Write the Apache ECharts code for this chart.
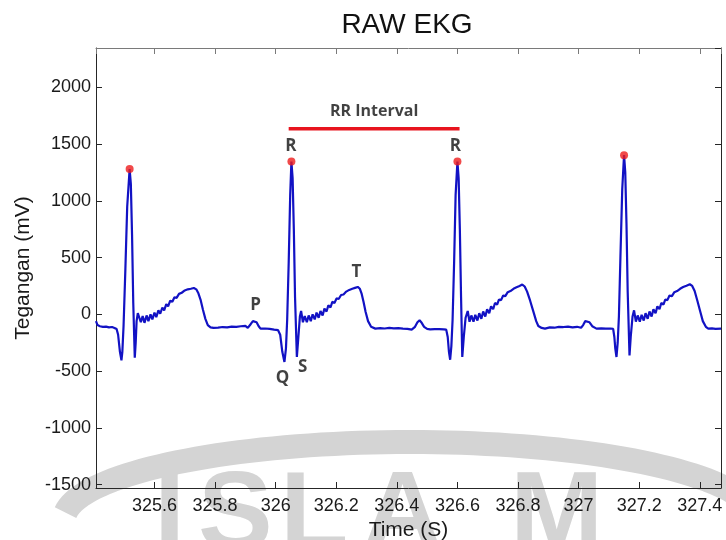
<!DOCTYPE html>
<html>
<head>
<meta charset="utf-8">
<script src="https://cdn.jsdelivr.net/npm/echarts@6/dist/echarts.min.js"></script>
<style>html,body{margin:0;padding:0;background:#fff;}#c{width:726px;height:540px;}</style>
</head>
<body>
<div id="c"></div>
<script>
// ---- data ----
const timeS = [
325.407,325.412,325.420,325.430,325.440,325.450,325.460,325.468,325.475,325.480,325.486,325.491,325.494,325.498,325.504,325.510,325.518,325.522,325.526,325.530,325.535,325.538,325.541,325.545,325.549,
325.555,325.561,325.567,325.574,325.580,325.587,325.593,325.600,325.606,325.613,325.619,325.626,325.632,325.639,325.645,325.652,325.659,325.666,325.673,325.681,325.690,325.700,325.710,325.720,325.730,
325.738,325.745,325.752,325.760,325.768,325.776,325.785,325.795,325.810,325.825,325.840,325.855,325.870,325.885,325.900,325.908,325.918,325.925,325.930,325.937,325.944,325.950,325.965,325.980,325.995,326.008,
326.015,326.022,326.029,326.034,326.038,326.043,326.048,326.052,326.056,326.060,326.064,326.070,326.075,326.080,326.084,
326.090,326.096,326.103,326.109,326.116,326.122,326.129,326.135,326.142,326.148,326.155,326.161,326.168,326.174,326.181,326.187,326.194,326.201,326.208,326.216,326.224,326.233,326.243,326.253,326.262,326.271,
326.278,326.284,326.290,326.297,326.305,326.315,326.329,326.345,326.360,326.375,326.390,326.405,326.420,326.435,326.449,326.460,326.468,326.475,326.482,326.490,326.500,326.510,326.525,326.540,326.555,326.563,
326.568,326.572,326.576,326.580,326.584,326.589,326.594,326.600,326.604,326.608,326.612,326.616,326.621,326.627,326.634,
326.640,326.646,326.653,326.659,326.666,326.672,326.679,326.685,326.692,326.698,326.705,326.711,326.718,326.724,326.731,326.737,326.744,326.751,326.758,326.766,326.775,326.785,326.795,326.805,326.814,
326.822,326.830,326.840,326.850,326.860,326.867,326.878,326.889,326.905,326.920,326.935,326.950,326.965,326.980,326.995,327.008,327.015,327.022,327.028,327.036,327.045,327.059,327.075,327.090,327.105,327.114,
327.118,327.121,327.125,327.129,327.133,327.138,327.144,327.150,327.154,327.158,327.162,327.168,327.172,327.178,327.183,
327.189,327.195,327.202,327.208,327.215,327.221,327.228,327.234,327.241,327.247,327.254,327.260,327.267,327.273,327.280,327.286,327.293,327.300,327.308,327.316,327.325,327.335,327.345,327.356,327.367,
327.375,327.383,327.392,327.401,327.410,327.420,327.428,327.440,327.452,327.470
];
const teganganMv = [
-60,-95,-105,-110,-108,-115,-112,-120,-130,-180,-330,-405,-330,-100,400,950,1279,1150,700,100,-382,-250,-60,10,25,
-70,-15,-75,-10,-60,0,-45,15,-25,35,5,60,35,90,70,120,110,150,145,180,190,210,220,225,232,
220,185,130,40,-40,-95,-115,-120,-118,-112,-115,-108,-110,-105,-102,-120,-85,-60,-53,-70,-105,-126,-125,-128,-135,-140,
-180,-330,-420,-300,-50,450,1050,1346,1200,750,150,-376,-200,-20,29,
-70,-15,-70,-10,-60,0,-45,15,-30,30,-10,50,25,80,60,110,100,140,135,170,175,200,215,225,233,241,
225,180,110,20,-60,-110,-126,-122,-125,-120,-124,-122,-126,-128,-135,-110,-70,-53,-75,-110,-128,-132,-130,-131,-132,-135,
-200,-330,-400,-280,-50,450,1050,1346,1200,750,150,-376,-200,-30,29,
-65,-10,-65,-5,-55,10,-40,25,-20,45,10,70,45,100,85,130,125,165,160,195,205,225,238,250,262,
245,200,120,30,-60,-103,-120,-126,-115,-118,-110,-112,-108,-115,-110,-118,-95,-60,-47,-70,-105,-126,-124,-126,-125,-128,
-200,-300,-376,-250,-20,500,1100,1402,1250,800,200,-362,-200,-20,35,
-65,-10,-65,-5,-55,10,-40,25,-20,45,10,70,45,100,85,130,125,165,160,195,205,225,240,252,265,
250,205,120,30,-60,-110,-126,-124,-128,-126
];
const rPeakTime = [325.518, 326.052, 326.600, 327.150];
const rPeakValue = [1279, 1346, 1346, 1402];
const waveLabels = ['R', 'R', 'P', 'T', 'Q', 'S'];
const waveLabelTime = [326.050, 326.593, 325.934, 326.267, 326.023, 326.089];
const waveLabelValue = [1480, 1485, 85, 375, -560, -465];
const rrText = 'RR Interval';
const rrStart = 326.043, rrEnd = 326.607, rrLevel = 1635;
const xMin = 325.407, xMax = 327.47;
const yMin = -1530, yMax = 2346;

const ekgData = timeS.map((t, i) => [t, teganganMv[i]]);
const peakData = rPeakTime.map((t, i) => [t, rPeakValue[i]]);
const labelData = waveLabels.map((s, i) => ({ name: s, value: [waveLabelTime[i], waveLabelValue[i]] }));

// watermark arc (page decoration only, not chart data)
const arcPts = [];
for (let k = 0; k <= 80; k++) {
  const a = Math.PI * 0.97 - Math.PI * 0.94 * k / 80;
  arcPts.push([410 + 346 * Math.cos(a), 520 - 78 * Math.sin(a)]);
}

const chart = echarts.init(document.getElementById('c'), null, { renderer: 'canvas' });
const axisColor = '#262626';
const tickFont = { fontFamily: 'Liberation Sans, Arial, sans-serif', fontSize: 18, color: '#1a1a1a' };
const wm = '#d4d4d4';

function xAx(pos, showLabel) {
  return {
    type: 'value', position: pos, min: xMin, max: xMax, splitNumber: 10,
    axisLine: { show: true, onZero: false, lineStyle: { color: pos === 'top' ? '#7a7a7a' : axisColor, width: 1 } },
    axisTick: { show: true, inside: true, length: 6, lineStyle: { color: pos === 'top' ? '#7a7a7a' : axisColor } },
    axisLabel: Object.assign({ show: showLabel, margin: 9, showMinLabel: false, showMaxLabel: false,
      formatter: v => String(Math.round(v * 10) / 10) }, tickFont),
    splitLine: { show: false }
  };
}
function yAx(pos, showLabel) {
  return {
    type: 'value', position: pos, min: yMin, max: yMax, splitNumber: 8,
    axisLine: { show: true, onZero: false, lineStyle: { color: axisColor, width: 1 } },
    axisTick: { show: true, inside: true, length: 6, lineStyle: { color: axisColor } },
    axisLabel: Object.assign({ show: showLabel, margin: 5, showMinLabel: false, showMaxLabel: false,
      formatter: v => String(Math.round(v)) }, tickFont),
    splitLine: { show: false }
  };
}

const xBottom = xAx('bottom', true);
xBottom.name = 'Time (S)';
xBottom.nameLocation = 'middle';
xBottom.nameGap = 21;
xBottom.nameTextStyle = { fontFamily: 'Liberation Sans, Arial, sans-serif', fontSize: 21, color: '#1a1a1a' };
const yLeft = yAx('left', true);
yLeft.name = 'Tegangan (mV)';
yLeft.nameLocation = 'middle';
yLeft.nameGap = 49;
yLeft.nameTextStyle = { fontFamily: 'Liberation Sans, Arial, sans-serif', fontSize: 21, color: '#1a1a1a' };

const letterFont = 'bold 112px Liberation Sans';
chart.setOption({
  animation: false,
  backgroundColor: '#ffffff',
  title: {
    text: 'RAW EKG', left: 402, top: 6, textAlign: 'center',
    textStyle: { fontFamily: 'Liberation Sans, Arial, sans-serif', fontSize: 28, fontWeight: 'normal', color: '#111' }
  },
  grid: { left: 96, right: 5, top: 48, bottom: 52, containLabel: false, outerBoundsMode: 'none' },
  graphic: [
    { type: 'polyline', z: -10, silent: true,
      shape: { points: arcPts },
      style: { fill: null, stroke: wm, lineWidth: 24 } },
    { type: 'text', z: -10, silent: true, left: 154, top: 462, style: { text: 'I', font: letterFont, fill: wm } },
    { type: 'text', z: -10, silent: true, left: 198, top: 462, style: { text: 'S', font: letterFont, fill: wm } },
    { type: 'text', z: -10, silent: true, left: 280, top: 462, style: { text: 'L', font: letterFont, fill: wm } },
    { type: 'text', z: -10, silent: true, left: 362, top: 462, style: { text: 'A', font: letterFont, fill: wm } },
    { type: 'text', z: -10, silent: true, left: 510, top: 462, style: { text: 'M', font: letterFont, fill: wm } }
  ],
  xAxis: [xBottom, xAx('top', false)],
  yAxis: [yLeft, yAx('right', false)],
  series: [
    {
      type: 'line', data: ekgData, xAxisIndex: 0, yAxisIndex: 0,
      showSymbol: false, symbol: 'none', smooth: false,
      lineStyle: { color: '#1212c4', width: 2.2 }, z: 3
    },
    {
      type: 'line', data: [[rrStart, rrLevel], [rrEnd, rrLevel]], showSymbol: false, symbol: 'none',
      lineStyle: { color: '#e8141e', width: 3.5 }, z: 3
    },
    {
      type: 'scatter', data: peakData, symbol: 'circle', symbolSize: 8,
      itemStyle: { color: '#ee1c1c' }, z: 4
    },
    {
      type: 'scatter', data: labelData, symbolSize: 0, z: 5,
      label: { show: true, position: 'inside', formatter: p => p.name,
        fontFamily: 'Open Sans, Noto Sans, sans-serif', fontWeight: 'bold', fontSize: 17, color: '#111' }
    },
    {
      type: 'scatter', data: [{ name: rrText, value: [(rrStart + rrEnd) / 2, 1785] }], symbolSize: 0, z: 5,
      label: { show: true, position: 'inside', formatter: p => p.name,
        fontFamily: 'Open Sans, Noto Sans, sans-serif', fontWeight: 'bold', fontSize: 16, color: '#111' }
    }
  ]
});
</script>
</body>
</html>
